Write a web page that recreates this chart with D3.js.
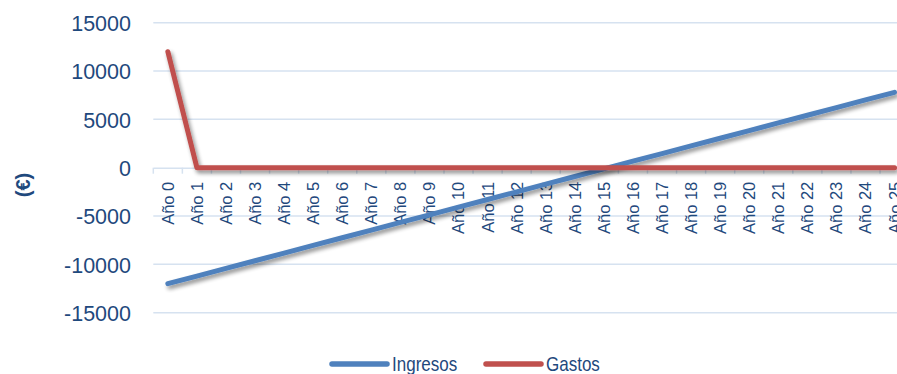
<!DOCTYPE html>
<html>
<head>
<meta charset="utf-8">
<script src="https://cdn.jsdelivr.net/npm/d3@7"></script>
<style>
  html, body { margin: 0; padding: 0; background: #ffffff; }
  svg { display: block; }
</style>
</head>
<body>
<svg id="chart" width="897" height="374"></svg>
<script>
// Categories: years of the investment horizon
const years = ["Año 0","Año 1","Año 2","Año 3","Año 4","Año 5","Año 6","Año 7","Año 8","Año 9",
  "Año 10","Año 11","Año 12","Año 13","Año 14","Año 15","Año 16","Año 17","Año 18","Año 19",
  "Año 20","Año 21","Año 22","Año 23","Año 24","Año 25"];

// Cumulative income (€)
const ingresos = [-12000, -11208, -10416, -9624, -8832, -8040, -7248, -6456, -5664, -4872,
  -4080, -3288, -2496, -1704, -912, -120, 672, 1464, 2256, 3048,
  3840, 4632, 5424, 6216, 7008, 7800];

// Expenses (€)
const gastos = [12000, 0, 0, 0, 0, 0, 0, 0, 0, 0,
  0, 0, 0, 0, 0, 0, 0, 0, 0, 0,
  0, 0, 0, 0, 0, 0];

// Value-axis ticks
const yTicks = [-15000, -10000, -5000, 0, 5000, 10000, 15000];

const seriesNames = ["Ingresos", "Gastos"];
const seriesColors = ["#4f81bd", "#c0504d"];

const textColor = "#1f497d";
const gridColor = "#d6e2f0";

const svg = d3.select("#chart");

const x = d3.scaleBand().domain(years).range([153.3, 909.1]).padding(0);
const y = d3.scaleLinear().domain([-15000, 15000]).range([312.7, 22.7]);

// Drop shadow for the series lines
const defs = svg.append("defs");
const f = defs.append("filter").attr("id", "shadow")
  .attr("x", "-10%").attr("y", "-10%").attr("width", "130%").attr("height", "140%");
f.append("feGaussianBlur").attr("in", "SourceAlpha").attr("stdDeviation", 2).attr("result", "b");
f.append("feOffset").attr("in", "b").attr("dx", 2).attr("dy", 3).attr("result", "o");
f.append("feComponentTransfer").attr("in", "o").attr("result", "s")
  .append("feFuncA").attr("type", "linear").attr("slope", 0.45);
const m = f.append("feMerge");
m.append("feMergeNode").attr("in", "s");
m.append("feMergeNode").attr("in", "SourceGraphic");

// Horizontal gridlines
svg.append("g").selectAll("line").data(yTicks.filter(d => d !== 0)).join("line")
  .attr("x1", 153.3).attr("x2", 909)
  .attr("y1", d => y(d)).attr("y2", d => y(d))
  .attr("stroke", gridColor).attr("stroke-width", 1.5);

// Value axis labels (plain hyphen for negatives)
const yAxis = d3.axisLeft(y).tickValues(yTicks).tickSize(0).tickPadding(0).tickFormat(d => String(d));
const gy = svg.append("g").attr("transform", "translate(131,0)").call(yAxis);
gy.select(".domain").remove();
gy.selectAll("text")
  .attr("fill", textColor)
  .attr("font-family", "'Liberation Sans', Arial, sans-serif")
  .attr("font-size", "21.5px")
  .attr("dy", "0.36em");

// Category axis along zero
const xAxis = d3.axisBottom(x).tickSize(0).tickPadding(0);
const gx = svg.append("g").attr("transform", `translate(0,${y(0)})`).call(xAxis);
gx.select(".domain").attr("stroke", gridColor).attr("stroke-width", 1.5);
gx.selectAll(".tick text")
  .attr("fill", textColor)
  .attr("font-family", "'Liberation Sans', Arial, sans-serif")
  .attr("font-size", "16.5px")
  .attr("text-anchor", "end")
  .attr("transform", "rotate(-90)")
  .attr("x", -14)
  .attr("y", 0)
  .attr("dy", "0.36em");
// Tick marks on category boundaries
const bounds = years.map(d => x(d)).concat([x(years[years.length - 1]) + x.bandwidth()]);
svg.append("g").selectAll("line").data(bounds).join("line")
  .attr("x1", d => d).attr("x2", d => d)
  .attr("y1", y(0)).attr("y2", y(0) + 6)
  .attr("stroke", gridColor).attr("stroke-width", 1.5);

// Series lines
const line = d3.line()
  .x((d, i) => x(years[i]) + x.bandwidth() / 2)
  .y(d => y(d));

[ingresos, gastos].forEach((vals, k) => {
  svg.append("path")
    .datum(vals)
    .attr("d", line)
    .attr("fill", "none")
    .attr("stroke", seriesColors[k])
    .attr("stroke-width", 5)
    .attr("stroke-linecap", "round")
    .attr("stroke-linejoin", "round")
    .attr("filter", "url(#shadow)");
});

// Axis title
svg.append("text")
  .attr("transform", "translate(30,185) rotate(-90)")
  .attr("text-anchor", "middle")
  .attr("fill", textColor)
  .attr("font-family", "'Liberation Sans', Arial, sans-serif")
  .attr("font-weight", "bold")
  .attr("font-size", "20px")
  .text("(€)");

// Legend (condensed lettering)
const legendX = [332, 486];
const lg = svg.append("g");
seriesNames.forEach((name, k) => {
  lg.append("line")
    .attr("x1", legendX[k]).attr("x2", legendX[k] + 55)
    .attr("y1", 364).attr("y2", 364)
    .attr("stroke", seriesColors[k]).attr("stroke-width", 5.5)
    .attr("stroke-linecap", "round");
  lg.append("text")
    .attr("transform", `translate(${legendX[k] + 60},371) scale(0.83,1)`)
    .attr("fill", textColor)
    .attr("font-family", "'Liberation Sans', Arial, sans-serif")
    .attr("font-size", "20.5px")
    .text(name);
});
</script>
</body>
</html>
